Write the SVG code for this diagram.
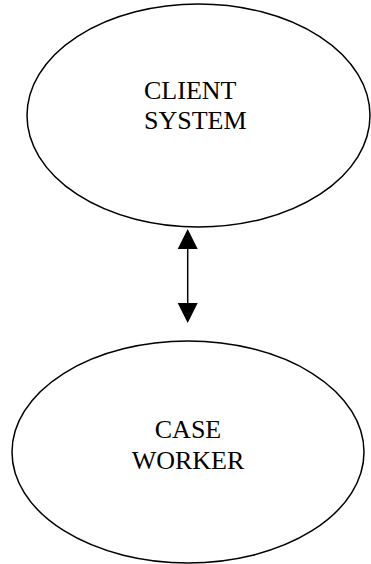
<svg xmlns="http://www.w3.org/2000/svg" width="371" height="564" viewBox="0 0 371 564">
<style>
.node ellipse{fill:#fff;stroke:#000;stroke-width:1.5}
text{font-family:"Liberation Serif","Times New Roman",serif;font-size:26px;fill:#000}
.conn line{stroke:#000;stroke-width:1.5}
.conn polygon{fill:#000}
</style>
<rect width="371" height="564" fill="#fff"/>
<g id="client-system" class="node">
<ellipse cx="198.5" cy="115.5" rx="171.5" ry="111.5"/>
<text x="144" y="99">CLIENT</text>
<text x="144" y="129">SYSTEM</text>
</g>
<g id="case-worker" class="node">
<ellipse cx="188" cy="452" rx="176" ry="111"/>
<text x="188" y="438" text-anchor="middle">CASE</text>
<text x="188" y="469" text-anchor="middle">WORKER</text>
</g>
<g id="connectors" class="conn">
<line x1="187.7" y1="248" x2="187.7" y2="304"/>
<polygon points="187.7,229 177.7,249 197.7,249"/>
<polygon points="187.7,323 177.7,303 197.7,303"/>
</g>
</svg>
